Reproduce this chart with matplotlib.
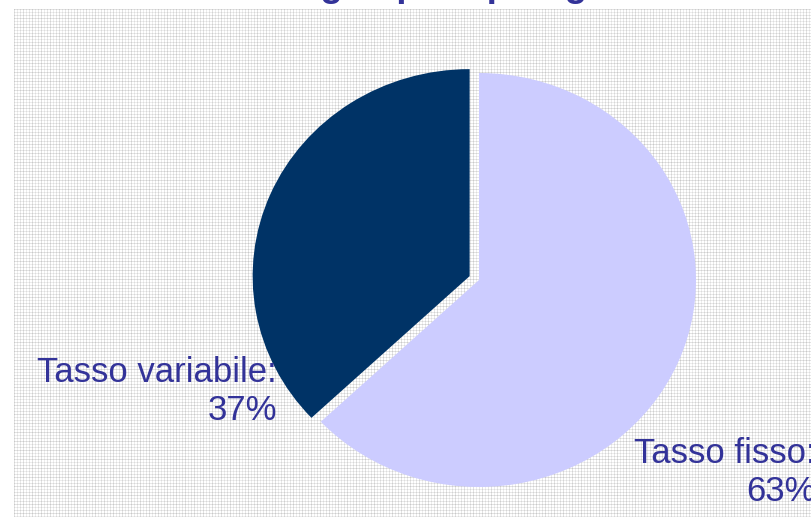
import numpy as np
import matplotlib
matplotlib.use("Agg")
from matplotlib import pyplot as plt

# data
labels = ["Tasso variabile:", "Tasso fisso:"]
values = [37, 63]
colors = ["#003366", "#CCCCFF"]
explode = [0.047, 0]
title = "Mutui erogati per tipologia di tasso"

W, H = 811, 517
plt.rcParams['font.family'] = ['Liberation Sans', 'DejaVu Sans']
fig = plt.figure(figsize=(W / 100, H / 100), dpi=100)
fig.patch.set_facecolor("white")

# fine grey grid texture behind the chart (starts a few px in from top/left)
bw, bh = W - 14, H - 9
line = np.array([0.89, 1, 1, 0.93, 1, 1, 0.91, 1, 1])
cols = line[np.arange(bw) % len(line)]
rows = line[np.arange(bh) % len(line)]
tex = rows[:, None] * cols[None, :]
tex = np.dstack([tex, tex, tex])
fig.figimage(tex, xo=14, yo=0, origin='upper', zorder=-5)

# pie is slightly wider than tall in the reference
cx, cy = 479, 280
rx, ry = 217, 207
lim = 1.1
aw, ah = 2 * lim * rx, 2 * lim * ry
ax = fig.add_axes([(cx - aw / 2) / W, 1 - (cy + ah / 2) / H, aw / W, ah / H])
ax.set_zorder(2)
ax.pie(values, colors=colors, explode=explode, startangle=90, counterclock=True,
       wedgeprops=dict(linewidth=0))
ax.set_aspect('auto')
ax.set_xlim(-lim, lim)
ax.set_ylim(-lim, lim)
ax.axis('off')

txt_color = "#333399"


def px(x, y):
    return x / W, 1 - y / H


# labels: name on the first line, percentage underneath, right aligned
label_pos = [(277, 382), (816, 463)]
for lab, v, (lx, ly) in zip(labels, values, label_pos):
    fig.text(*px(lx, ly), lab, ha='right', va='baseline', fontsize=25, color=txt_color, zorder=5)
    fig.text(*px(lx, ly + 38), f"{v}%", ha='right', va='baseline', fontsize=25, color=txt_color, zorder=5)

# title sits above the visible area, only descenders show
fig.text(*px(154, -4), title, ha='left', va='baseline', fontsize=26.6,
         fontweight='bold', color=txt_color)

fig.savefig("out.png", dpi=100)
